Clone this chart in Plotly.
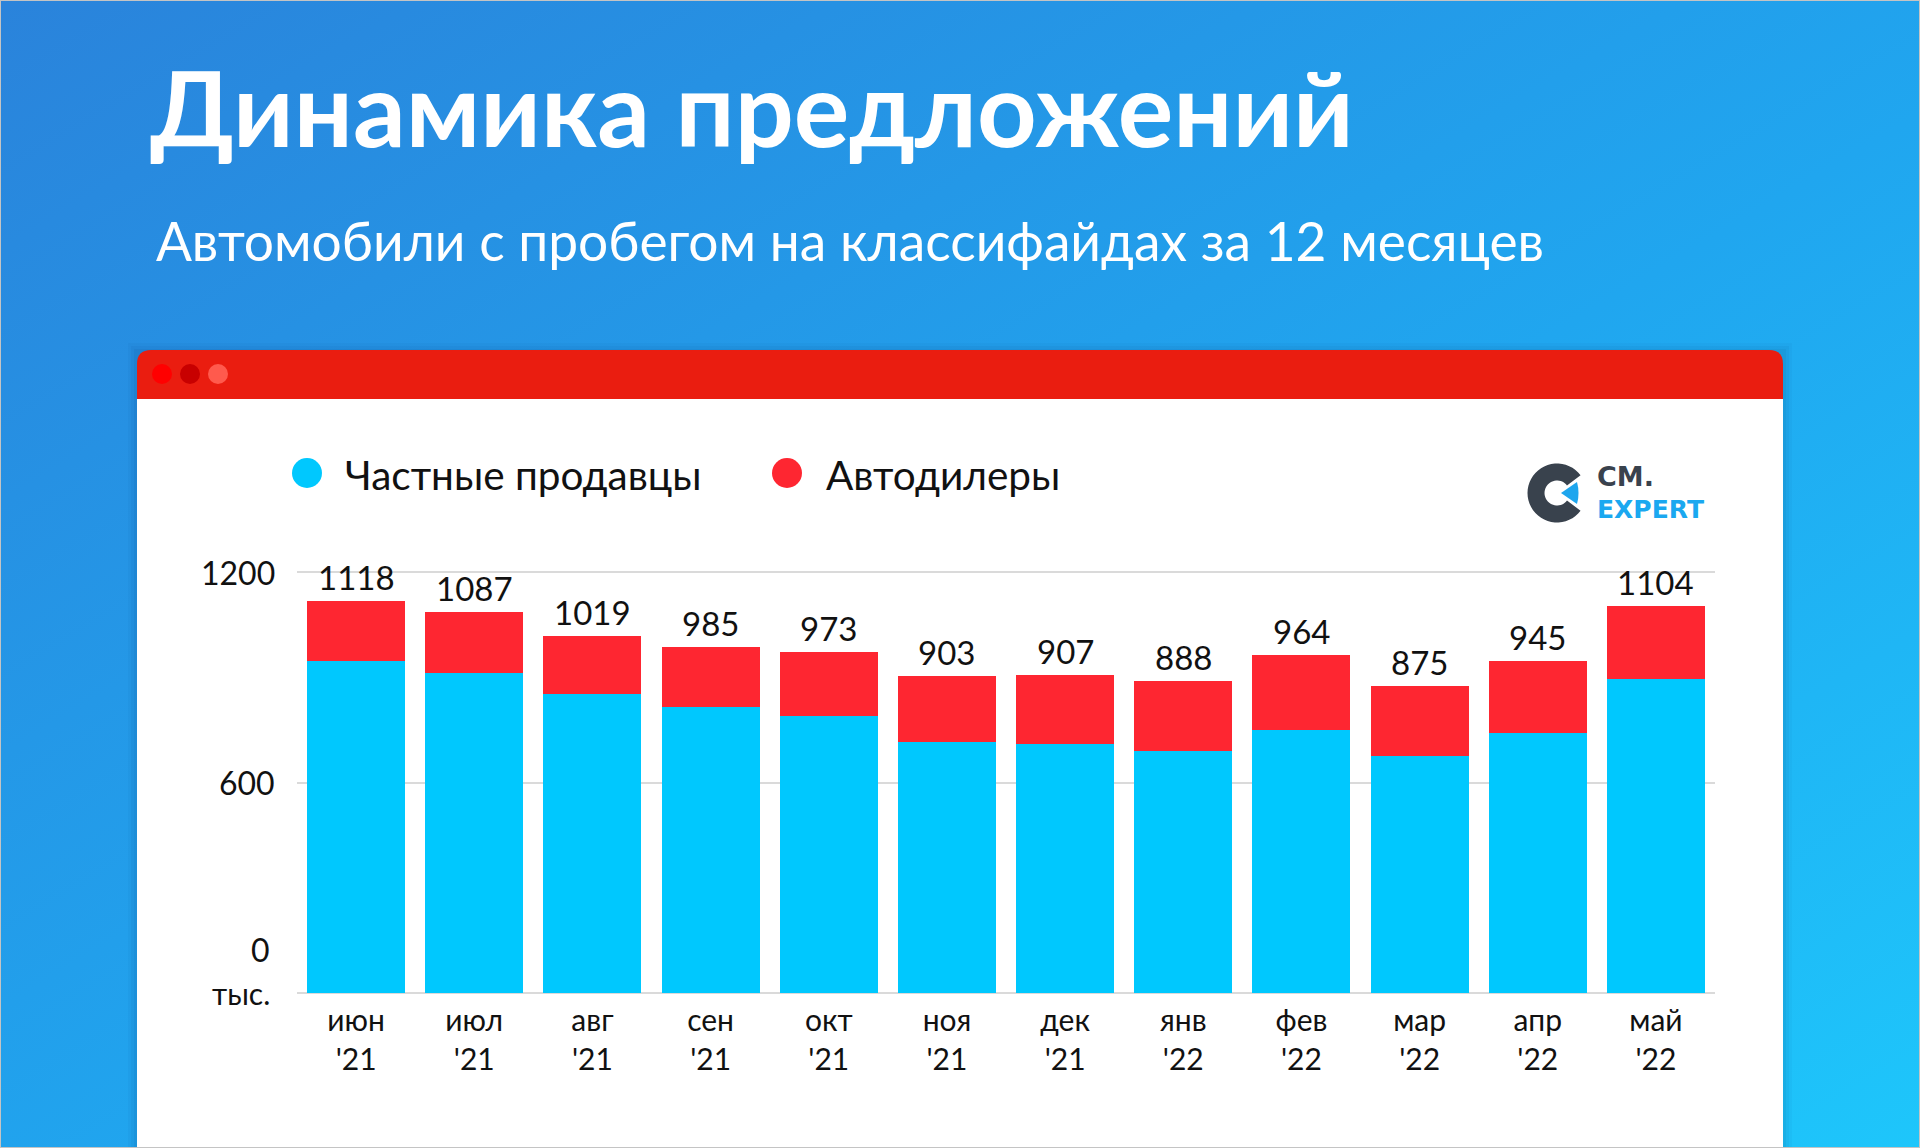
import base64
import math
import plotly.graph_objects as go

# ---------------- data ----------------
months = ["июн", "июл", "авг", "сен", "окт", "ноя", "дек", "янв", "фев", "мар", "апр", "май"]
years = ["21", "21", "21", "21", "21", "21", "21", "22", "22", "22", "22", "22"]
private_sellers = [945, 913, 853, 816, 790, 716, 710, 690, 750, 676, 741, 896]
dealers = [173, 174, 166, 169, 183, 187, 197, 198, 214, 199, 204, 208]
totals = [1118, 1087, 1019, 985, 973, 903, 907, 888, 964, 875, 945, 1104]
y_tick_values = [0, 600, 1200]
y_tick_labels = ["0", "600", "1200"]
y_unit = "тыс."
series_names = ["Частные продавцы", "Автодилеры"]

title_text = "Динамика предложений"
subtitle_text = "Автомобили с пробегом на классифайдах за 12 месяцев"

# ---------------- styling ----------------
W, H = 1920, 1148
FONT = "Lato"
BLUE = "#00c8fe"
RED = "#fe2631"
HEADER_RED = "#ea1d10"
TEXT = "#111111"
GRID = "#dadada"


def px(x):
    return x / W


def py(y):
    return 1 - y / H


categories = [f"{m}<br>'{y}" for m, y in zip(months, years)]

fig = go.Figure()
fig.add_trace(go.Bar(x=categories, y=private_sellers, name=series_names[0],
                     marker=dict(color=BLUE, line=dict(width=0)), showlegend=False,
                     hoverinfo="x+y"))
fig.add_trace(go.Bar(x=categories, y=dealers, name=series_names[1],
                     marker=dict(color=RED, line=dict(width=0)), showlegend=False,
                     hoverinfo="x+y"))

# ---------------- background gradient ----------------
svg = (
    f'<svg xmlns="http://www.w3.org/2000/svg" width="{W}" height="{H}">'
    '<defs><linearGradient id="g" x1="0" y1="0" x2="1" y2="1">'
    '<stop offset="0" stop-color="#2a83db"/>'
    '<stop offset="0.55" stop-color="#20a6ef"/>'
    '<stop offset="1" stop-color="#1ec6fb"/>'
    '</linearGradient></defs>'
    f'<rect width="{W}" height="{H}" fill="url(#g)"/></svg>'
)
bg_src = "data:image/svg+xml;base64," + base64.b64encode(svg.encode()).decode()

shapes = []
# card shadow
for i, a in enumerate([0.05, 0.04, 0.03]):
    d = 3 * (i + 1)
    shapes.append(dict(type="rect", xref="paper", yref="paper", layer="below",
                       x0=px(137 - d), x1=px(1783 + d), y0=py(1170), y1=py(350 - d + 2),
                       line=dict(width=0), fillcolor=f"rgba(0,30,80,{a})"))
# card body
shapes.append(dict(type="rect", xref="paper", yref="paper", layer="below",
                   x0=px(137), x1=px(1783), y0=py(1170), y1=py(398),
                   line=dict(width=0), fillcolor="#ffffff"))
# header bar with rounded top corners
r = 14
hx0, hx1, hy0, hy1 = 137, 1783, 350, 399
hdr = (f"M {px(hx0)},{py(hy1)} L {px(hx0)},{py(hy0 + r)} "
       f"Q {px(hx0)},{py(hy0)} {px(hx0 + r)},{py(hy0)} "
       f"L {px(hx1 - r)},{py(hy0)} Q {px(hx1)},{py(hy0)} {px(hx1)},{py(hy0 + r)} "
       f"L {px(hx1)},{py(hy1)} Z")
shapes.append(dict(type="path", xref="paper", yref="paper", layer="below", path=hdr,
                   line=dict(width=0), fillcolor=HEADER_RED))
# window dots
for cx, col in [(162, "#ff0000"), (190, "#c80000"), (218, "#ff5a4d")]:
    shapes.append(dict(type="circle", xref="paper", yref="paper", layer="below",
                       x0=px(cx - 10), x1=px(cx + 10), y0=py(374 + 10), y1=py(374 - 10),
                       line=dict(width=0), fillcolor=col))
# legend dots
for cx, col in [(307, BLUE), (787, RED)]:
    shapes.append(dict(type="circle", xref="paper", yref="paper", layer="below",
                       x0=px(cx - 15), x1=px(cx + 15), y0=py(473 + 15), y1=py(473 - 15),
                       line=dict(width=0), fillcolor=col))

# logo ring (annular sector open to the right)
lcx, lcy, ro, ri = 1557, 493, 29.5, 12.5
gap = 37
pts = []
n = 40
for k in range(n + 1):
    a = math.radians(gap + (360 - 2 * gap) * k / n)
    pts.append((lcx + ro * math.cos(a), lcy - ro * math.sin(a)))
for k in range(n + 1):
    a = math.radians(360 - gap - (360 - 2 * gap) * k / n)
    pts.append((lcx + ri * math.cos(a), lcy - ri * math.sin(a)))
ring = "M " + " L ".join(f"{px(x)},{py(y)}" for x, y in pts) + " Z"
shapes.append(dict(type="path", xref="paper", yref="paper", layer="below", path=ring,
                   line=dict(width=0), fillcolor="#39424d"))
tri = (f"M {px(1561)},{py(493)} L {px(1577)},{py(482)} "
       f"Q {px(1580)},{py(493)} {px(1577)},{py(504)} Z")
shapes.append(dict(type="path", xref="paper", yref="paper", layer="below", path=tri,
                   line=dict(width=0), fillcolor="#1ea6ee"))
# thin frame
shapes.append(dict(type="rect", xref="paper", yref="paper", layer="above",
                   x0=0, x1=1, y0=0, y1=1, line=dict(width=2, color="#c4c4c4")))

annotations = []
annotations.append(dict(text=f"<b>{title_text}</b>", xref="paper", yref="paper",
                        x=px(148), y=py(106), xanchor="left", yanchor="middle",
                        showarrow=False, font=dict(family=FONT, size=104, color="white")))
annotations.append(dict(text=subtitle_text, xref="paper", yref="paper",
                        x=px(154), y=py(240), xanchor="left", yanchor="middle",
                        showarrow=False, font=dict(family=FONT, size=53.3, color="white")))
# legend text
for lx, name in [(343, series_names[0]), (824, series_names[1])]:
    annotations.append(dict(text=name, xref="paper", yref="paper", x=px(lx), y=py(474),
                            xanchor="left", yanchor="middle", showarrow=False,
                            font=dict(family=FONT, size=40.5, color=TEXT)))
# logo text
annotations.append(dict(text="<b>CM.</b>", xref="paper", yref="paper", x=px(1595), y=py(477),
                        xanchor="left", yanchor="middle", showarrow=False,
                        font=dict(family="DejaVu Sans", size=27, color="#39424d")))
annotations.append(dict(text="<b>EXPERT</b>", xref="paper", yref="paper", x=px(1595), y=py(509),
                        xanchor="left", yanchor="middle", showarrow=False,
                        font=dict(family="DejaVu Sans", size=25, color="#1aa8f0")))
# totals above bars
for c, t in zip(categories, totals):
    annotations.append(dict(text=str(t), x=c, y=t, xref="x", yref="y", xanchor="center",
                            yanchor="bottom", yshift=2, showarrow=False,
                            font=dict(family=FONT, size=33, color=TEXT)))
# y tick labels
for v, lab in zip(y_tick_values, y_tick_labels):
    annotations.append(dict(text=lab, x=px(277 if v else 272), y=v, xref="paper", yref="y",
                            xanchor="right", yanchor="middle", yshift=(44 if v == 0 else 0),
                            showarrow=False, font=dict(family=FONT, size=32, color=TEXT)))
annotations.append(dict(text=y_unit, x=px(272), y=0, xref="paper", yref="y",
                        xanchor="right", yanchor="middle", showarrow=False,
                        font=dict(family=FONT, size=30, color=TEXT)))

ppu = (993 - 572) / 1200.0
ymax = 1260
top_px = 993 - ymax * ppu

fig.update_layout(
    width=W, height=H, autosize=False,
    margin=dict(l=0, r=0, t=0, b=0),
    paper_bgcolor="#2196e8", plot_bgcolor="rgba(0,0,0,0)",
    barmode="stack", bargap=0.17,
    showlegend=False,
    images=[dict(source=bg_src, xref="paper", yref="paper", x=0, y=1, sizex=1, sizey=1,
                 sizing="stretch", xanchor="left", yanchor="top", layer="below")],
    shapes=shapes, annotations=annotations,
    xaxis=dict(domain=[px(297), px(1715)], range=[-0.5, 11.5], showgrid=False,
               showline=False, zeroline=False, ticks="",
               tickfont=dict(family=FONT, size=30, color=TEXT), ticklabelstandoff=7),
    yaxis=dict(domain=[py(993), py(top_px)], range=[0, ymax], tickvals=y_tick_values,
               showticklabels=False, showgrid=True, gridcolor=GRID, gridwidth=1.5,
               zeroline=True, zerolinecolor=GRID, zerolinewidth=1.5, showline=False),
    font=dict(family=FONT, color=TEXT),
)

fig.write_html("out.html", config={"displayModeBar": False},
               post_script="document.body.style.margin='0';document.body.style.overflow='hidden';")
